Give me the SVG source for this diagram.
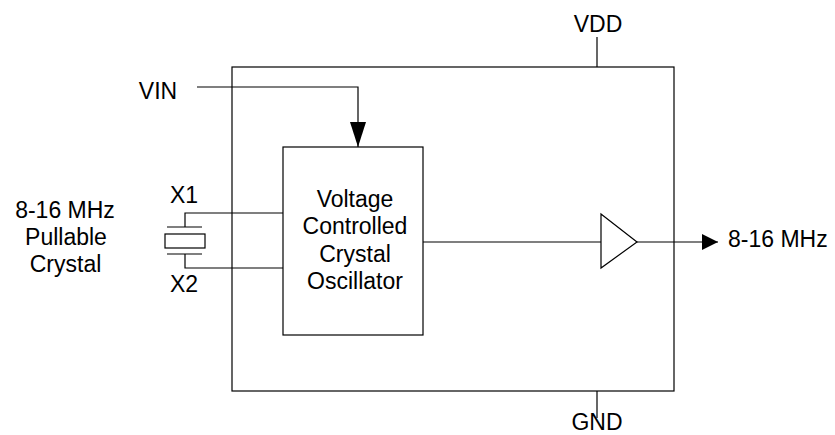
<svg xmlns="http://www.w3.org/2000/svg" width="835" height="435" viewBox="0 0 835 435">
<style>
.ln{fill:none;stroke:#000;stroke-width:1.2}
.t{font-family:"Liberation Sans",Arial,sans-serif;font-size:23px;fill:#000}
.c{text-anchor:middle}
</style>
<defs>
<marker id="ah" viewBox="0 0 16 16" refX="16" refY="8" markerWidth="16" markerHeight="16" markerUnits="userSpaceOnUse" orient="auto">
<path d="M0,0 L16,8 L0,16 Z" fill="#000"/>
</marker>
<marker id="ahv" viewBox="0 0 25 16" refX="25" refY="8" markerWidth="25" markerHeight="16" markerUnits="userSpaceOnUse" orient="auto">
<path d="M0,0 L25,8 L0,16 Z" fill="#000"/>
</marker>
</defs>
<rect width="835" height="435" fill="#fff"/>
<g id="chip">
<rect class="ln" x="232" y="67" width="442" height="324"/>
</g>
<g id="vcxo">
<rect class="ln" x="283" y="147" width="140" height="188"/>
<text class="t c" x="355" y="206.5">Voltage</text>
<text class="t c" x="355" y="234">Controlled</text>
<text class="t c" x="355" y="261.5">Crystal</text>
<text class="t c" x="355" y="289">Oscillator</text>
</g>
<g id="buffer">
<path class="ln" d="M601,214 L637,242 L601,268 Z" fill="#fff"/>
</g>
<g id="crystal">
<path class="ln" d="M167,227 H202 M167,254 H202"/>
<rect class="ln" x="165" y="234" width="40" height="14"/>
<text class="t c" x="184" y="203">X1</text>
<text class="t c" x="184" y="292">X2</text>
</g>
<g id="crystal-label">
<text class="t c" x="65" y="218">8-16 MHz</text>
<text class="t c" x="66" y="245">Pullable</text>
<text class="t c" x="65.5" y="272">Crystal</text>
</g>
<g id="vin-label"><text class="t c" x="158" y="99">VIN</text></g>
<g id="vdd-label"><text class="t c" x="598" y="32">VDD</text></g>
<g id="gnd-label"><text class="t c" x="597" y="430">GND</text></g>
<g id="out-label"><text class="t" x="728" y="247">8-16 MHz</text></g>
<g id="connectors">
<path class="ln" d="M197,87 H358 V147" marker-end="url(#ahv)"/>
<path class="ln" d="M185,227 V213 H283"/>
<path class="ln" d="M185,254 V268 H283"/>
<path class="ln" d="M423,242 H601"/>
<path class="ln" d="M637,242 H718" marker-end="url(#ah)"/>
<path class="ln" d="M597,37 V67"/>
<path class="ln" d="M597,391 V418"/>
</g>
</svg>
